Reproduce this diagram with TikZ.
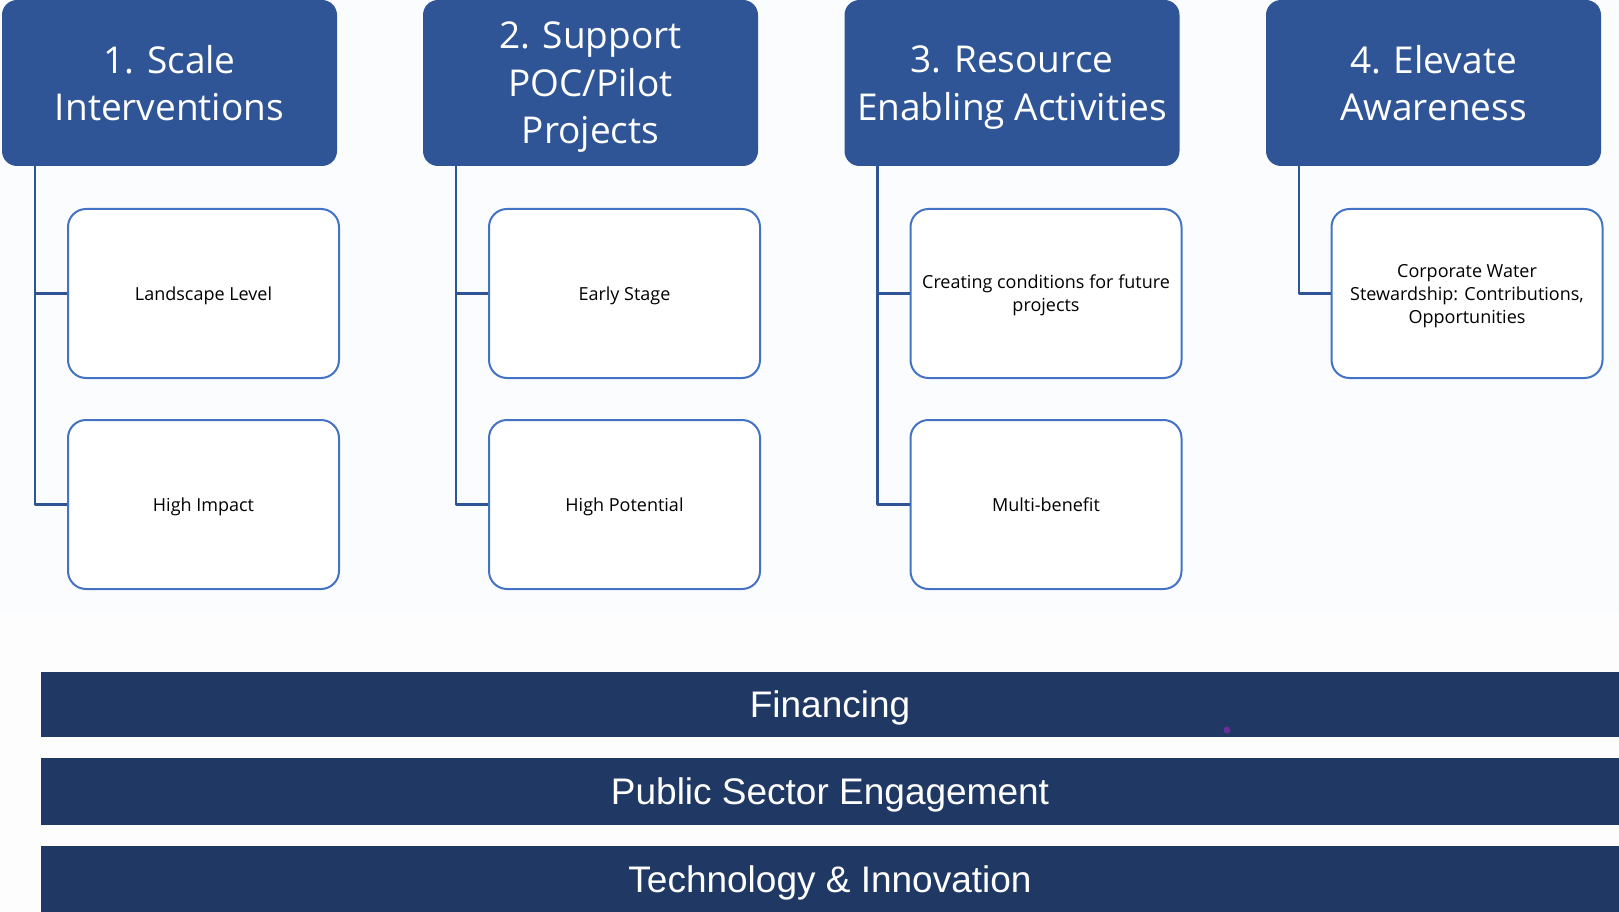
\documentclass[tikz,border=0pt]{standalone}
\usepackage{fontspec}
\setmainfont{Open Sans}
\newfontfamily\barfont{Liberation Sans}
\definecolor{headblue}{HTML}{2F5597}
\definecolor{boxblue}{HTML}{4472C4}
\definecolor{bandnavy}{HTML}{203864}
\definecolor{paleback}{HTML}{FBFCFE}
\definecolor{offwhite}{HTML}{FDFDFD}
\definecolor{dotpurple}{HTML}{6B2D9A}
\tikzset{
  header/.style={fill=headblue, rounded corners=15pt, minimum width=335pt, minimum height=166pt,
    text=white, align=center, inner sep=0pt, text depth=0pt, font=\fontsize{37}{47.5}\selectfont},
  item/.style={draw=boxblue, line width=2pt, fill=white, rounded corners=18pt, minimum width=271pt,
    minimum height=169pt, align=center, inner sep=0pt, text depth=0pt, font=\fontsize{18}{23}\selectfont},
  band/.style={fill=bandnavy, minimum width=1578pt, text=white, inner sep=0pt,
    text height=26.5pt, text depth=0pt, font=\barfont\fontsize{37}{44}\selectfont},
  branch/.style={draw=headblue, line width=2.5pt}
}
\begin{document}
\begin{tikzpicture}[x=1pt, y=-1pt, line join=round]
  \useasboundingbox (0,0) rectangle (1619,912);
  \fill[paleback] (0,0) rectangle (1619,613);
  \fill[offwhite] (0,613) rectangle (1619,912);

  % headers
  \node[header] (h1) at (169.5,83) {1. Scale\\Interventions};
  \node[header] (h2) at (590.5,83) {2. Support\\POC/Pilot\\Projects};
  \node[header] (h3) at (1012,83) {3. Resource\\Enabling Activities};
  \node[header] (h4) at (1433.5,83) {4. Elevate\\Awareness};

  % sub boxes
  \node[item] (i1a) at (203.5,293.5) {Landscape Level};
  \node[item] (i1b) at (203.5,504.5) {High Impact};
  \node[item] (i2a) at (624.5,293.5) {Early Stage};
  \node[item] (i2b) at (624.5,504.5) {High Potential};
  \node[item] (i3a) at (1046,293.5) {Creating conditions for future\\projects};
  \node[item] (i3b) at (1046,504.5) {Multi-benefit};
  \node[item] (i4a) at (1467,293.5) {Corporate Water\\Stewardship: Contributions,\\Opportunities};

  \draw[branch] ([xshift=33pt]h1.south west) |- (i1a.west);
  \draw[branch] ([xshift=33pt]h1.south west) |- (i1b.west);
  \draw[branch] ([xshift=33pt]h2.south west) |- (i2a.west);
  \draw[branch] ([xshift=33pt]h2.south west) |- (i2b.west);
  \draw[branch] ([xshift=33pt]h3.south west) |- (i3a.west);
  \draw[branch] ([xshift=33pt]h3.south west) |- (i3b.west);
  \draw[branch] ([xshift=33pt]h4.south west) |- (i4a.west);

  % bands
  \node[band, minimum height=65pt] (fin) at (830,704.5) {Financing};
  \node[band, minimum height=67pt] (pub) at (830,791.5) {Public Sector Engagement};
  \node[band, minimum height=66pt] (tec) at (830,879) {Technology \& Innovation};
  \fill[dotpurple] (1227,730) circle (3.5pt);
\end{tikzpicture}
\end{document}
